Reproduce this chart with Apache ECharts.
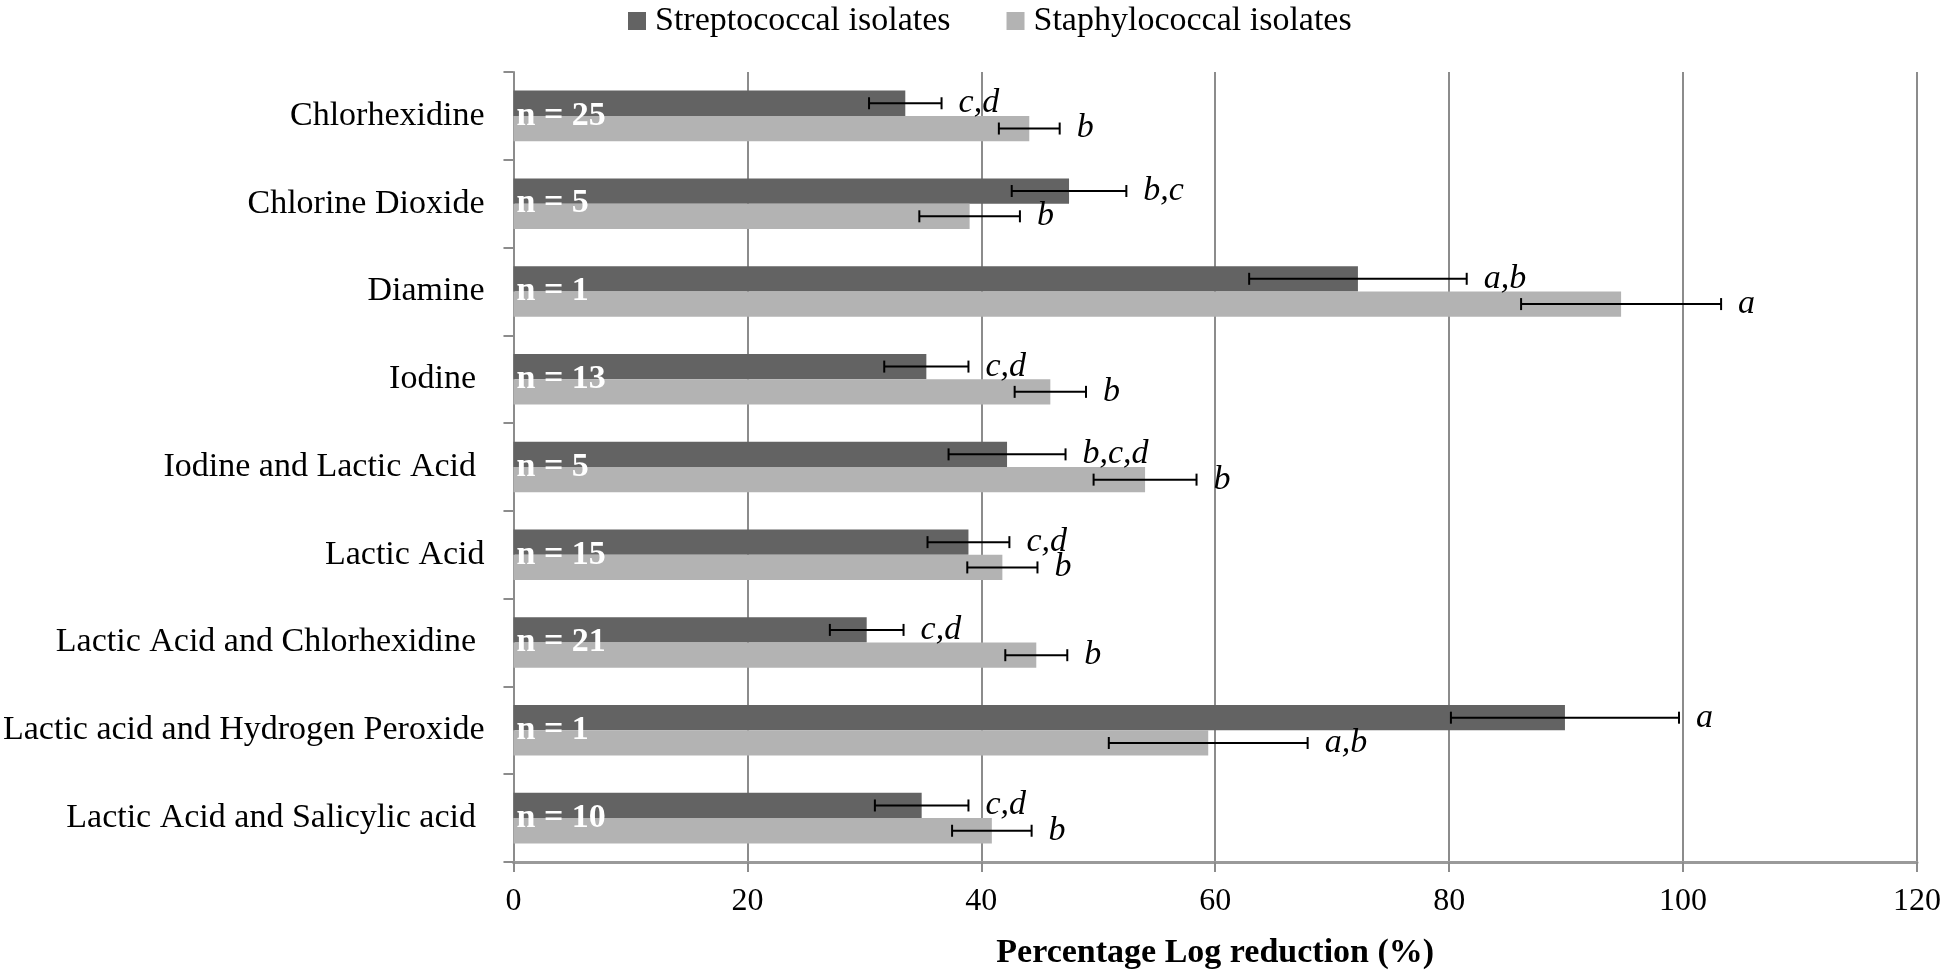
<!DOCTYPE html>
<html>
<head>
<meta charset="utf-8">
<script src="https://cdn.jsdelivr.net/npm/echarts@6/dist/echarts.min.js"></script>
<style>html,body{margin:0;padding:0;background:#fff}#c{width:1946px;height:975px}</style>
</head>
<body>
<div id="c"></div>
<script>
var categories = ['Chlorhexidine', 'Chlorine Dioxide', 'Diamine', 'Iodine ', 'Iodine and Lactic Acid ', 'Lactic Acid', 'Lactic Acid and Chlorhexidine ', 'Lactic acid and Hydrogen Peroxide', 'Lactic Acid and Salicylic acid '];
var strep = [33.5, 47.5, 72.2, 35.3, 42.2, 38.9, 30.2, 89.9, 34.9];
var strepErr = [3.1, 4.9, 9.3, 3.6, 5.0, 3.5, 3.15, 9.75, 4.0];
var staph = [44.1, 39.0, 94.7, 45.9, 54.0, 41.8, 44.7, 59.4, 40.9];
var staphErr = [2.6, 4.3, 8.55, 3.05, 4.4, 3.0, 2.65, 8.5, 3.4];
var strepLetters = ['c,d', 'b,c', 'a,b', 'c,d', 'b,c,d', 'c,d', 'c,d', 'a', 'c,d'];
var staphLetters = ['b', 'b', 'a', 'b', 'b', 'b', 'b', 'a,b', 'b'];
var nCounts = [25, 5, 1, 13, 5, 15, 21, 1, 10];
var xTicks = [0, 20, 40, 60, 80, 100, 120];

var FONT = 'Liberation Serif';
var BAR_FRAC = 0.288;

function errData(vals, errs, letters) {
  return vals.map(function (v, i) { return [v, i, errs[i], letters[i]]; });
}

function errRender(sign) {
  return function (params, api) {
    var v = api.value(0), idx = api.value(1), e = api.value(2);
    var band = api.size([0, 1])[1];
    var yc = api.coord([v, idx])[1] + sign * band * BAR_FRAC / 2;
    var x1 = api.coord([v - e, idx])[0];
    var x2 = api.coord([v + e, idx])[0];
    var cap = 6;
    var st = { stroke: '#000', lineWidth: 2 };
    return {
      type: 'group',
      children: [
        { type: 'line', shape: { x1: x1, y1: yc, x2: x2, y2: yc }, style: st },
        { type: 'line', shape: { x1: x1, y1: yc - cap, x2: x1, y2: yc + cap }, style: st },
        { type: 'line', shape: { x1: x2, y1: yc - cap, x2: x2, y2: yc + cap }, style: st },
        { type: 'text', x: x2 + 17, y: yc, style: { text: api.value(3), fill: '#000', font: 'italic 34px "' + FONT + '"', align: 'left', verticalAlign: 'middle' } }
      ]
    };
  };
}

var chart = echarts.init(document.getElementById('c'), null, { renderer: 'canvas' });
chart.setOption({
  animation: false,
  backgroundColor: '#fff',
  textStyle: { fontFamily: FONT },
  legend: {
    data: ['Streptococcal isolates', 'Staphylococcal isolates'],
    left: 623, top: -1,
    icon: 'rect', itemWidth: 18, itemHeight: 18, itemGap: 56,
    textStyle: { fontFamily: FONT, fontSize: 34, color: '#000', padding: [0, 0, 0, 4] }
  },
  grid: { left: 513, right: 29, top: 72, bottom: 106, containLabel: false },
  xAxis: {
    type: 'value', min: 0, max: 120, interval: 20,
    name: 'Percentage Log reduction (%)', nameLocation: 'middle', nameGap: 74,
    nameTextStyle: { fontFamily: FONT, fontSize: 34, fontWeight: 'bold', color: '#000' },
    axisLine: { show: true, lineStyle: { color: '#9a9a9a', width: 3 } },
    axisTick: { show: true, length: 10, lineStyle: { color: '#8c8c8c', width: 2 } },
    axisLabel: { fontFamily: FONT, fontSize: 32, color: '#000', margin: 24,
      formatter: function (v) { return xTicks.indexOf(v) >= 0 ? String(v) : ''; } },
    splitLine: { show: true, lineStyle: { color: '#8c8c8c', width: 2 } }
  },
  yAxis: {
    type: 'category', data: categories, inverse: true,
    axisLine: { show: true, lineStyle: { color: '#8c8c8c', width: 2 } },
    axisTick: { show: true, length: 10, lineStyle: { color: '#8c8c8c', width: 2 } },
    axisLabel: { fontFamily: FONT, fontSize: 34, color: '#000', margin: 29 },
    splitLine: { show: false }
  },
  series: [
    { name: 'Streptococcal isolates', type: 'bar', data: strep, barWidth: (BAR_FRAC * 100) + '%', barGap: '0%',
      itemStyle: { color: '#636363' }, z: 2 },
    { name: 'Staphylococcal isolates', type: 'bar', data: staph, barWidth: (BAR_FRAC * 100) + '%', barGap: '0%',
      itemStyle: { color: '#b3b3b3' }, z: 2 },
    { type: 'custom', name: 'strepErr', data: errData(strep, strepErr, strepLetters), renderItem: errRender(-1),
      encode: { x: 0, y: 1 }, z: 4, silent: true },
    { type: 'custom', name: 'staphErr', data: errData(staph, staphErr, staphLetters), renderItem: errRender(1),
      encode: { x: 0, y: 1 }, z: 4, silent: true },
    { type: 'custom', name: 'nLabels', data: nCounts.map(function (n, i) { return [0, i, n]; }),
      encode: { x: 0, y: 1 }, z: 5, silent: true,
      renderItem: function (params, api) {
        var p = api.coord([api.value(0), api.value(1)]);
        return { type: 'text', x: p[0] + 3, y: p[1], style: { text: 'n = ' + api.value(2), fill: '#fff',
          font: 'bold 34px "' + FONT + '"', align: 'left', verticalAlign: 'middle' } };
      } }
  ]
});
</script>
</body>
</html>
